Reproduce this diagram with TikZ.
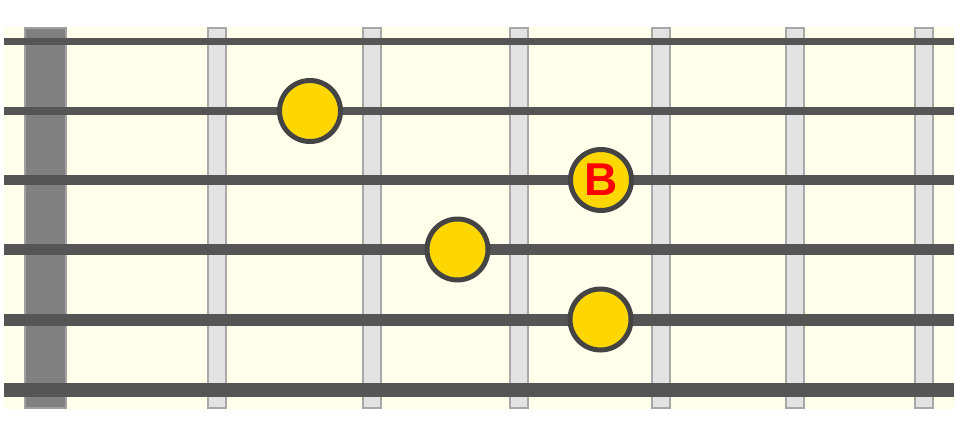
\documentclass[tikz,border=0pt]{standalone}
\usepackage{fontspec}
\setmainfont{Liberation Sans}
\usetikzlibrary{positioning}

\definecolor{boardbg}{HTML}{FFFFEC}
\definecolor{nutfill}{HTML}{808080}
\definecolor{nutedge}{HTML}{A0A0A0}
\definecolor{fretfill}{HTML}{E3E3E3}
\definecolor{fretedge}{HTML}{A8A8A8}
\definecolor{stringgray}{HTML}{555555}
\definecolor{dotedge}{HTML}{444444}
\definecolor{dotfill}{HTML}{FFD700}

\begin{document}
\begin{tikzpicture}[x=1pt, y=-1pt,
                board/.style={fill=boardbg},
                nut bar/.style={draw=nutedge, fill=nutfill, line width=2pt},
                fret bar/.style={draw=fretedge, fill=fretfill, line width=2pt},
                guitar string/.style={draw=stringgray, line width=#1},
                finger/.style={circle, draw=dotedge, fill=dotfill, line width=5pt,
                               minimum size=61pt, inner sep=0pt, text=red,
                               font=\bfseries\fontsize{46}{46}\selectfont}]

                % page size and fretboard
                \useasboundingbox (0,0) rectangle (954,437);
                \fill[board] (4,27) rectangle (954,409);

                % nut and frets
                \draw[nut bar] (25,28) rectangle (66,408);
                \foreach \x in {217,372,519,661,795,923.5}
                    \draw[fret bar] (\x-9,28) rectangle (\x+9,408);

                % strings, thin to thick
                \foreach \y/\w in {41.5/7, 111/8, 180/10, 249.5/11, 319.5/12, 389.5/14}
                    \draw[guitar string=\w pt] (4,\y) -- (954,\y);

                % finger positions
                \node[finger] (dotA) at (310,111) {};
                \node[finger] (root) at (601,180) {B};
                \node[finger] (dotB) at (457.5,249.5) {};
                \node[finger] (dotC) at (600.5,319.5) {};
            \end{tikzpicture}
\end{document}
